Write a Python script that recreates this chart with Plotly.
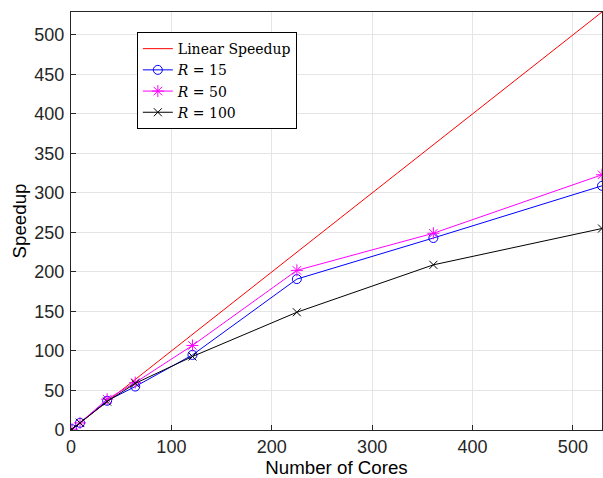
import plotly.graph_objects as go

cores = [1, 9, 36, 64, 121, 225, 361, 529]
linear = [1, 9, 36, 64, 121, 225, 361, 529]
r15 = [1, 9, 37, 55, 95, 191, 243, 309]
r50 = [1, 9, 39, 60, 107, 202, 249, 323]
r100 = [1, 9, 36, 59, 93, 149, 209, 255]

xticks = [0, 100, 200, 300, 400, 500]
yticks = [0, 50, 100, 150, 200, 250, 300, 350, 400, 450, 500]

fig = go.Figure()
fig.add_trace(go.Scatter(x=cores, y=linear, mode="lines", name="Linear Speedup",
                         line=dict(color="#ff0000", width=1)))
fig.add_trace(go.Scatter(x=cores, y=r15, mode="lines+markers", name="<i>R</i> = 15",
                         line=dict(color="#0000ff", width=1),
                         marker=dict(symbol="circle-open", size=9, color="#0000ff", line=dict(width=1))))
fig.add_trace(go.Scatter(x=cores, y=r50, mode="lines+markers", name="<i>R</i> = 50",
                         line=dict(color="#ff00ff", width=1),
                         marker=dict(symbol="asterisk-open", size=10, color="#ff00ff", line=dict(width=1, color="#ff00ff"))))
fig.add_trace(go.Scatter(x=cores, y=r100, mode="lines+markers", name="<i>R</i> = 100",
                         line=dict(color="#000000", width=1),
                         marker=dict(symbol="x-thin-open", size=8, color="#000000", line=dict(width=1, color="#000000"))))

axis_common = dict(showline=True, linecolor="#262626", linewidth=1, mirror=True,
                   ticks="inside", ticklen=5, tickcolor="#262626",
                   showgrid=True, gridcolor="#e5e5e5", gridwidth=1, zeroline=False,
                   tickfont=dict(family="Liberation Sans, Arial", size=18, color="#262626"))

fig.update_layout(
    width=603, height=478,
    margin=dict(l=71, r=1, t=12, b=48),
    paper_bgcolor="white", plot_bgcolor="white",
    xaxis=dict(range=[0, 529], tickvals=xticks,
               title=dict(text="Number of Cores", font=dict(family="Liberation Sans, Arial", size=18.7, color="#000000"), standoff=6),
               **axis_common),
    yaxis=dict(range=[0, 529], tickvals=yticks, ticklabelstandoff=2,
               title=dict(text="Speedup", font=dict(family="Liberation Sans, Arial", size=18.7, color="#000000"), standoff=2),
               **axis_common),
    legend=dict(x=0.124, y=0.952, xanchor="left", yanchor="top",
                bgcolor="white", bordercolor="#000000", borderwidth=1,
                font=dict(family="DejaVu Serif, Liberation Serif, serif", size=14, color="#000000"),
                tracegroupgap=0, itemwidth=30),
    showlegend=True,
)

fig.write_html("out.html")
